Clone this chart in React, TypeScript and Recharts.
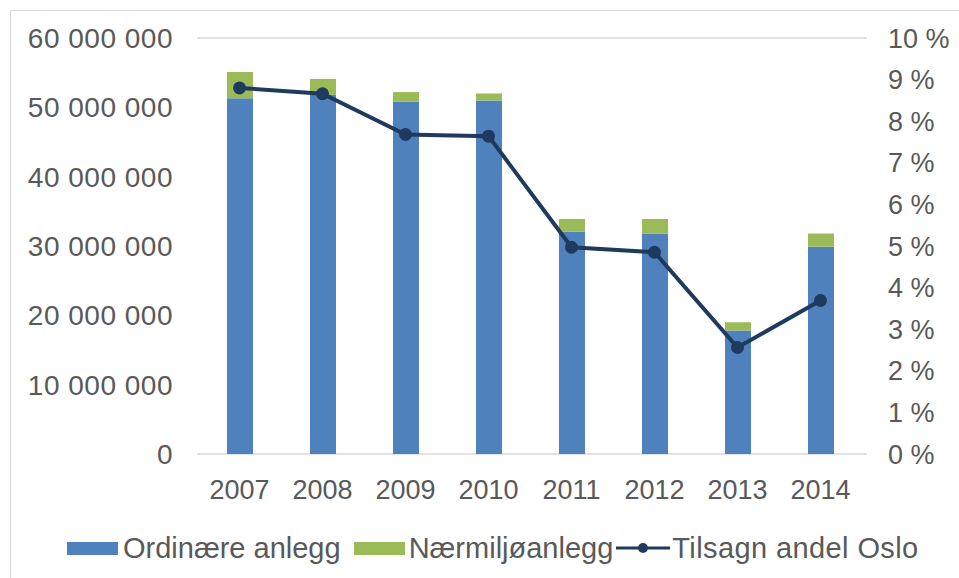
import React from 'react';
import { ComposedChart, Bar, Line, XAxis, YAxis, CartesianGrid, Legend } from 'recharts';

const years = ['2007', '2008', '2009', '2010', '2011', '2012', '2013', '2014'];
const ordinaere = [51300000, 51800000, 50800000, 51000000, 32100000, 31800000, 17800000, 29900000];
const naermiljo = [3800000, 2300000, 1400000, 1000000, 1800000, 2100000, 1200000, 1900000];
const andelOslo = [0.088, 0.0866, 0.0768, 0.0764, 0.0497, 0.0485, 0.0256, 0.0369];
const leftTicks = [0, 10000000, 20000000, 30000000, 40000000, 50000000, 60000000];
const rightTicks = [0, 0.01, 0.02, 0.03, 0.04, 0.05, 0.06, 0.07, 0.08, 0.09, 0.1];

const data = years.map((y, i) => ({
  year: y,
  ordinaere: ordinaere[i],
  naermiljo: naermiljo[i],
  andel: andelOslo[i],
}));

const BLUE = '#4f81bd';
const GREEN = '#9bbb59';
const NAVY = '#1f3a5f';
const TEXT = '#595959';
const FONT = '"Liberation Sans", Arial, sans-serif';

const fmtLeft = (v: number) => String(v).replace(/\B(?=(\d{3})+(?!\d))/g, ' ');
const fmtRight = (v: number) => `${Math.round(v * 100)} %`;

const LegendContent = () => (
  <div
    style={{
      height: 60,
      display: 'flex',
      alignItems: 'center',
      fontFamily: FONT,
      fontSize: 29,
      color: TEXT,
      paddingLeft: 67,
      boxSizing: 'border-box',
      whiteSpace: 'nowrap',
    }}
  >
    <span style={{ display: 'inline-block', width: 51, height: 13, background: BLUE, marginRight: 5 }} />
    <span style={{ marginRight: 13 }}>Ordinære anlegg</span>
    <span style={{ display: 'inline-block', width: 51, height: 13, background: GREEN, marginRight: 4 }} />
    <span style={{ marginRight: 3 }}>Nærmiljøanlegg</span>
    <svg width={54} height={16} style={{ marginRight: 2 }}>
      <line x1={0} y1={8} x2={54} y2={8} stroke={NAVY} strokeWidth={3} />
      <circle cx={27} cy={8} r={5} fill={NAVY} />
    </svg>
    <span style={{ letterSpacing: 0.4 }}>Tilsagn andel Oslo</span>
  </div>
);

export default function App() {
  return (
    <div style={{ position: 'absolute', left: 0, top: 0, width: 959, height: 578, background: '#fff', overflow: 'hidden' }}>
      <div
        style={{
          position: 'absolute',
          left: 10,
          top: 10,
          width: 1000,
          height: 600,
          borderLeft: '1px solid #d9d9d9',
          borderTop: '1px solid #d9d9d9',
        }}
      />
      <div style={{ position: 'absolute', left: 0, top: 0 }}>
        <ComposedChart
          width={959}
          height={578}
          data={data}
          margin={{ top: 38, right: 0, bottom: 0, left: 0 }}
          barSize={26}
        >
          <CartesianGrid vertical={false} stroke="#d9d9d9" strokeWidth={1.5} />
          <XAxis
            dataKey="year"
            axisLine={false}
            tickLine={false}
            tickSize={0}
            tickMargin={26}
            height={64}
            padding={{ left: 1, right: 5 }}
            tick={{ fill: TEXT, fontSize: 27, fontFamily: FONT }}
            interval={0}
          />
          <YAxis
            yAxisId="left"
            orientation="left"
            width={197}
            domain={[0, 60000000]}
            ticks={leftTicks}
            tickFormatter={fmtLeft}
            axisLine={false}
            tickLine={false}
            tickSize={0}
            tickMargin={24}
            tick={{ fill: TEXT, fontSize: 28, fontFamily: FONT, letterSpacing: 0.5 }}
            interval={0}
          />
          <YAxis
            yAxisId="right"
            orientation="right"
            width={92}
            domain={[0, 0.1]}
            ticks={rightTicks}
            tickFormatter={fmtRight}
            axisLine={false}
            tickLine={false}
            tickSize={0}
            tickMargin={21}
            tick={{ fill: TEXT, fontSize: 27, fontFamily: FONT }}
            interval={0}
          />
          <Legend verticalAlign="bottom" content={<LegendContent />} />
          <Bar yAxisId="left" dataKey="ordinaere" name="Ordinære anlegg" stackId="a" fill={BLUE} isAnimationActive={false} />
          <Bar yAxisId="left" dataKey="naermiljo" name="Nærmiljøanlegg" stackId="a" fill={GREEN} isAnimationActive={false} />
          <Line
            yAxisId="right"
            dataKey="andel"
            name="Tilsagn andel Oslo"
            stroke={NAVY}
            strokeWidth={4}
            dot={{ r: 6.5, fill: NAVY, stroke: NAVY, strokeWidth: 0 }}
            isAnimationActive={false}
          />
        </ComposedChart>
      </div>
    </div>
  );
}
